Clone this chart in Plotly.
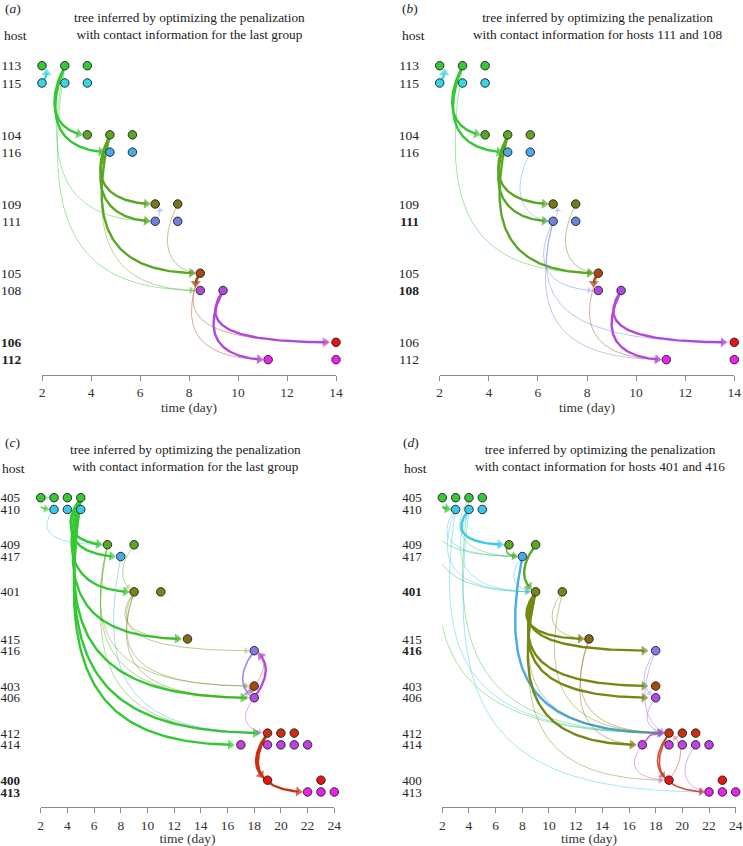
import numpy as np
import plotly.graph_objects as go

W, H = 743, 846

# ---------------- data ----------------
GROUPS_AB = [["113", "115"], ["104", "116"], ["109", "111"], ["105", "108"], ["106", "112"]]
GROUPS_CD = [["405", "410"], ["409", "417"], ["401"], ["415", "416"], ["403", "406"],
             ["412", "414"], ["400", "413"]]

TIMES_AB = {
    "113": [2.0, 2.93, 3.85], "115": [2.0, 2.93, 3.85],
    "104": [3.85, 4.77, 5.69], "116": [4.77, 5.69],
    "109": [6.62, 7.54], "111": [6.62, 7.54],
    "105": [8.46], "108": [8.46, 9.39],
    "106": [14.0], "112": [11.23, 14.0],
}
TIMES_CD = {
    "405": [2, 3, 4, 5], "410": [3, 4, 5],
    "409": [7, 9], "417": [8],
    "401": [9, 11],
    "415": [13], "416": [18],
    "403": [18], "406": [18],
    "412": [19, 20, 21], "414": [17, 19, 20, 21, 22],
    "400": [19, 23], "413": [22, 23, 24],
}

# edges: (source host, source time, target host, target time, weight 1..3)
EDGES_A = [
    ("115", 2.0, "113", 2.0, 3), ("113", 2.0, "115", 2.0, 2),
    ("113", 2.93, "104", 3.85, 3), ("113", 2.93, "116", 4.77, 3),
    ("113", 2.93, "111", 6.62, 1), ("113", 2.93, "108", 8.46, 1),
    ("104", 4.77, "109", 6.62, 3), ("104", 4.77, "111", 6.62, 3),
    ("104", 4.77, "105", 8.46, 3), ("104", 4.77, "108", 8.46, 1),
    ("111", 6.62, "109", 6.62, 1), ("109", 7.54, "105", 8.46, 1),
    ("105", 8.46, "108", 8.46, 3), ("105", 8.46, "112", 11.23, 1),
    ("105", 8.46, "106", 14.0, 1),
    ("108", 9.39, "112", 11.23, 3), ("108", 9.39, "106", 14.0, 3),
]
EDGES_B = [
    ("115", 2.0, "113", 2.0, 3), ("113", 2.0, "115", 2.0, 2),
    ("113", 2.93, "104", 3.85, 3), ("113", 2.93, "116", 4.77, 3),
    ("113", 2.93, "105", 8.46, 1),
    ("104", 4.77, "109", 6.62, 3), ("104", 4.77, "111", 6.62, 3),
    ("104", 4.77, "105", 8.46, 3),
    ("116", 5.69, "111", 6.62, 1), ("111", 6.62, "109", 6.62, 1),
    ("109", 7.54, "105", 8.46, 1), ("105", 8.46, "108", 8.46, 3),
    ("111", 6.62, "108", 8.46, 1), ("111", 6.62, "112", 11.23, 1),
    ("111", 6.62, "106", 14.0, 1), ("105", 8.46, "112", 11.23, 1),
    ("108", 9.39, "112", 11.23, 3), ("108", 9.39, "106", 14.0, 3),
]
EDGES_C = [
    ("405", 2, "410", 3, 2), ("405", 2, "405", 3, 1),
    ("410", 3, "409", 7, 1),
    ("405", 5, "409", 7, 3), ("405", 5, "417", 8, 3), ("405", 5, "401", 9, 3),
    ("405", 5, "415", 13, 3), ("405", 5, "406", 18, 3), ("405", 5, "412", 19, 3),
    ("405", 5, "414", 17, 3),
    ("417", 8, "412", 19, 1), ("409", 9, "401", 9, 1),
    ("409", 7, "403", 18, 1), ("409", 7, "406", 18, 1), ("409", 7, "412", 19, 1),
    ("401", 9, "416", 18, 1), ("401", 9, "403", 18, 1), ("401", 9, "406", 18, 1),
    ("401", 9, "415", 13, 1),
    ("403", 18, "406", 18, 2), ("403", 18, "416", 18, 1),
    ("406", 18, "416", 18, 3), ("416", 18, "406", 18, 2),
    ("406", 18, "412", 19, 1),
    ("412", 19, "400", 19, 3), ("412", 19, "413", 22, 3),
]
EDGES_D = [
    ("405", 2, "410", 3, 3),
    ("405", 2, "417", 8, 1), ("405", 2, "401", 9, 1), ("405", 2, "412", 19, 1),
    ("405", 4, "417", 8, 1), ("405", 4, "412", 19, 1),
    ("410", 3, "417", 8, 1), ("410", 3, "401", 9, 1), ("410", 3, "412", 19, 1),
    ("410", 4, "409", 7, 3), ("410", 4, "401", 9, 1), ("410", 4, "413", 22, 1),
    ("409", 7, "417", 8, 2), ("409", 9, "401", 9, 3),
    ("417", 8, "412", 19, 3), ("417", 8, "401", 9, 1),
    ("401", 9, "415", 13, 3), ("401", 9, "416", 18, 3), ("401", 9, "403", 18, 3),
    ("401", 9, "406", 18, 3), ("401", 9, "414", 17, 3),
    ("401", 9, "412", 19, 1), ("401", 9, "400", 19, 1),
    ("401", 11, "415", 13, 1), ("401", 11, "412", 19, 1),
    ("415", 13, "414", 17, 1), ("415", 13, "412", 19, 1),
    ("416", 18, "406", 18, 1), ("416", 18, "412", 19, 1),
    ("406", 18, "412", 19, 1),
    ("414", 17, "400", 19, 1), ("414", 17, "412", 19, 2),
    ("412", 19, "400", 19, 2), ("412", 19, "413", 22, 2),
    ("400", 19, "412", 19, 1), ("414", 21, "413", 22, 1),
]

BOLD = {"a": ["106", "112"], "b": ["111", "108"], "c": ["400", "413"], "d": ["401", "416"]}
TITLE_A = "tree inferred by optimizing the penalization<br>with contact information for the last group"
TITLE_B = "tree inferred by optimizing the penalization<br>with contact information for hosts 111 and 108"
TITLE_D = "tree inferred by optimizing the penalization<br>with contact information for hosts 401 and 416"
XTICKS_AB = [2, 4, 6, 8, 10, 12, 14]
XTICKS_CD = [2, 4, 6, 8, 10, 12, 14, 16, 18, 20, 22, 24]

# ---------------- style ----------------
COLORS = {
    "113": (52, 200, 52), "115": (56, 214, 224), "104": (88, 168, 34), "116": (72, 170, 232),
    "109": (120, 120, 20), "111": (112, 128, 224), "105": (170, 72, 18), "108": (176, 72, 222),
    "106": (236, 18, 18), "112": (236, 34, 236),
    "405": (52, 200, 52), "410": (56, 200, 236), "409": (88, 168, 34), "417": (72, 170, 232),
    "401": (118, 136, 20), "415": (136, 104, 18), "416": (136, 120, 232), "403": (170, 72, 18),
    "406": (180, 72, 230), "412": (200, 48, 16), "414": (196, 64, 226), "400": (236, 18, 18),
    "413": (236, 34, 236),
}
WSTYLE = {3: (2.4, 1.0), 2: (1.6, 0.85), 1: (1.0, 0.45)}
FONT = "Liberation Serif"

PANELS = {
    # x px of xmin, x px of xmax, xmin, xmax, px of row 0, px per row, axis px, top px
    "a": dict(x0=42.0, x1=336.0, xmin=2, xmax=14, r0=65.7, rp=17.29, ax=375.0, top=50.0,
              groups=GROUPS_AB, times=TIMES_AB, edges=EDGES_A, ticks=XTICKS_AB, hs=13.5),
    "b": dict(x0=439.7, x1=734.3, xmin=2, xmax=14, r0=65.7, rp=17.29, ax=375.0, top=50.0,
              groups=GROUPS_AB, times=TIMES_AB, edges=EDGES_B, ticks=XTICKS_AB, hs=13.5),
    "c": dict(x0=40.7, x1=334.3, xmin=2, xmax=24, r0=497.7, rp=11.77, ax=807.3, top=480.0,
              groups=GROUPS_CD, times=TIMES_CD, edges=EDGES_C, ticks=XTICKS_CD, hs=13),
    "d": dict(x0=442.3, x1=735.7, xmin=2, xmax=24, r0=497.7, rp=11.77, ax=807.3, top=480.0,
              groups=GROUPS_CD, times=TIMES_CD, edges=EDGES_D, ticks=XTICKS_CD, hs=13),
}


def rgba(c, a):
    return "rgba(%d,%d,%d,%.2f)" % (c[0], c[1], c[2], a)


fig = go.Figure()
layout = {}

for i, (key, P) in enumerate(PANELS.items()):
    xa = "x" if i == 0 else "x%d" % (i + 1)
    ya = "y" if i == 0 else "y%d" % (i + 1)
    rows = {}
    for gi, g in enumerate(P["groups"]):
        for j, h in enumerate(g):
            rows[h] = gi * 4 + j
    sx = (P["x1"] - P["x0"]) / (P["xmax"] - P["xmin"])

    def to_px(t, r):
        return P["x0"] + (t - P["xmin"]) * sx, P["r0"] + r * P["rp"]

    def to_data(px, py):
        return P["xmin"] + (px - P["x0"]) / sx, (py - P["r0"]) / P["rp"]

    # edges
    for (s, ts, d, td, w) in P["edges"]:
        p0 = np.array(to_px(ts, rows[s]))
        p3 = np.array(to_px(td, rows[d]))
        dx, dy = p3 - p0
        b = min(26.0, 0.6 * abs(dy)) if abs(dy) > 0 else 8.0
        sgn = -1.0 if dy >= 0 else 1.0
        p1 = np.array([p0[0] + sgn * b, p0[1] + 0.75 * dy])
        p2 = np.array([p0[0] + 0.12 * dx, p3[1]])
        tt = np.linspace(0, 1, 80)[:, None]
        pts = ((1 - tt) ** 3) * p0 + 3 * ((1 - tt) ** 2) * tt * p1 + 3 * (1 - tt) * tt ** 2 * p2 + tt ** 3 * p3
        lw, al = WSTYLE[w]
        asz = 5 + 1.6 * lw
        r_stop = 4.5 + asz * 0.45
        dist = np.hypot(pts[:, 0] - p3[0], pts[:, 1] - p3[1])
        idx = len(pts) - 1
        while idx > 1 and dist[idx] < r_stop:
            idx -= 1
        pts = pts[: idx + 1]
        xs, ys = zip(*[to_data(px, py) for px, py in pts])
        col = rgba(COLORS[s], al)
        sizes = [0] * (len(xs) - 1) + [asz]
        fig.add_trace(go.Scatter(
            x=xs, y=ys, mode="lines+markers", xaxis=xa, yaxis=ya,
            line=dict(color=col, width=lw, shape="linear"),
            marker=dict(symbol="triangle-up", size=sizes, color=col, angleref="previous",
                        line=dict(width=0)),
            cliponaxis=False, hoverinfo="skip", showlegend=False))

    # sample dots
    for h, ts in P["times"].items():
        fig.add_trace(go.Scatter(
            x=ts, y=[rows[h]] * len(ts), mode="markers", xaxis=xa, yaxis=ya,
            marker=dict(size=8.5, color=rgba(COLORS[h], 1), line=dict(color="#2a2a2a", width=1)),
            cliponaxis=False, hoverinfo="skip", showlegend=False))

    hosts = list(rows.keys())
    ticktext = ["<b>%s</b>" % h if h in BOLD[key] else h for h in hosts]
    layout["xaxis" if i == 0 else "xaxis%d" % (i + 1)] = dict(
        domain=[P["x0"] / W, P["x1"] / W], range=[P["xmin"], P["xmax"]], anchor=ya,
        showgrid=False, zeroline=False, showline=True, linecolor="#8a8a8a", linewidth=1,
        ticks="outside", ticklen=5, tickcolor="#8a8a8a", tickwidth=1,
        tickvals=P["ticks"], tickfont=dict(family=FONT, size=13.5, color="#333"),
        automargin=False,
        title=dict(text="time (day)", font=dict(family=FONT, size=13.5, color="#333"), standoff=0))
    layout["yaxis" if i == 0 else "yaxis%d" % (i + 1)] = dict(
        domain=[1 - P["ax"] / H, 1 - P["top"] / H],
        range=[(P["ax"] - P["r0"]) / P["rp"], (P["top"] - P["r0"]) / P["rp"]], anchor=xa,
        showgrid=False, zeroline=False, showline=False, automargin=False,
        ticks="outside", ticklen=17, tickcolor="rgba(0,0,0,0)",
        tickvals=[rows[h] for h in hosts], ticktext=ticktext,
        tickfont=dict(family=FONT, size=P["hs"], color="#222"))

annots = []
def txt(x, y, s, size=13.5, xanchor="center"):
    annots.append(dict(x=x / W, y=1 - y / H, xref="paper", yref="paper", text=s, showarrow=False,
                       xanchor=xanchor, yanchor="middle",
                       font=dict(family=FONT, size=size, color="#222")))

txt(3, 9, "(<i>a</i>)", xanchor="left")
txt(2, 36, "host", xanchor="left")
txt(189, 26, TITLE_A, size=13.3)
txt(400, 9, "(<i>b</i>)", xanchor="left")
txt(400, 36, "host", xanchor="left")
txt(597, 26, TITLE_B, size=13.3)
txt(3, 442, "(<i>c</i>)", xanchor="left")
txt(0, 468, "host", xanchor="left")
txt(186, 458, TITLE_A, size=13.3)
txt(401, 442, "(<i>d</i>)", xanchor="left")
txt(402, 468, "host", xanchor="left")
txt(600, 458, TITLE_D, size=13.3)

fig.update_layout(
    width=W, height=H, margin=dict(l=0, r=0, t=0, b=0, autoexpand=False),
    paper_bgcolor="white", plot_bgcolor="white",
    showlegend=False, annotations=annots, **layout)

fig.write_html("out.html", config={"displayModeBar": False},
               post_script="document.body.style.margin='0px';document.body.style.padding='0px';")
